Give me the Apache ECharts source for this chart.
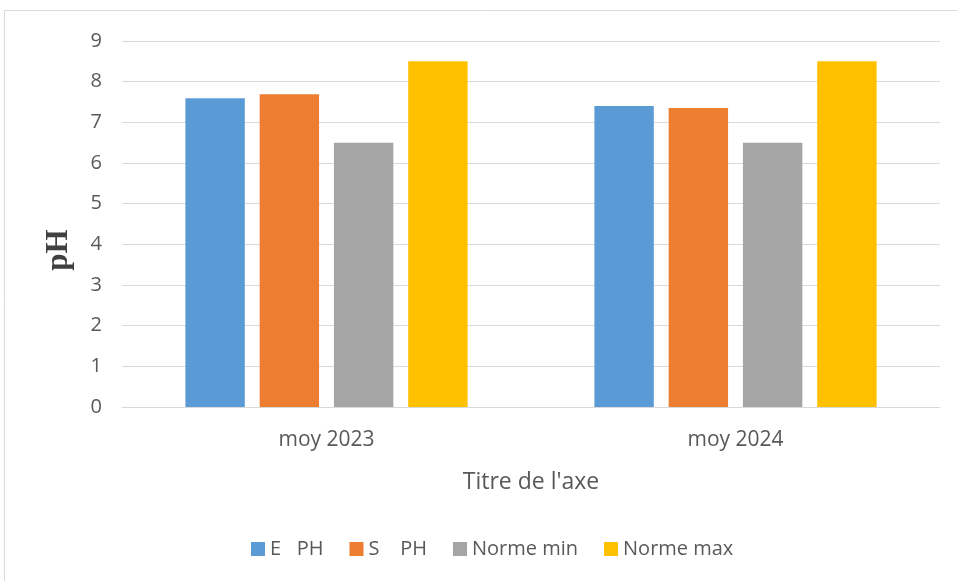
<!DOCTYPE html>
<html>
<head>
<meta charset="utf-8">
<script src="https://cdn.jsdelivr.net/npm/echarts@6/dist/echarts.min.js"></script>
<style>
  html, body { margin: 0; padding: 0; background: #fff; }
  #main { width: 957px; height: 581px; }
</style>
</head>
<body>
<div id="main"></div>
<script>
// pH moyen
let categories = ['moy 2023', 'moy 2024'];
let ePH = [7.59, 7.40];
let sPH = [7.69, 7.35];
let normeMin = [6.5, 6.5];
let normeMax = [8.5, 8.5];
let seriesNames = ['E   PH', 'S    PH', 'Norme min', 'Norme max'];
let colorList = ['#5b9bd5', '#ed7d31', '#a5a5a5', '#ffc000'];

let font = 'Open Sans';

function bar(name, data) {
  return {
    name: name,
    type: 'bar',
    data: data,
    barGap: '25%',
    barCategoryGap: '31%'
  };
}

let phOption = {
  color: colorList,
  animation: false,
  graphic: [
    {
      type: 'rect',
      shape: { x: 4.5, y: 10.5, width: 960, height: 575 },
      style: { fill: 'none', stroke: '#d9d9d9', lineWidth: 1 }
    },
    {
      type: 'text',
      x: 59,
      y: 250,
      rotation: Math.PI / 2,
      style: {
        text: 'pH',
        fill: '#404040',
        font: 'bold 31px "Liberation Serif"',
        align: 'center',
        verticalAlign: 'middle'
      }
    }
  ],
  grid: {
    left: 122,
    right: 17,
    top: 41,
    bottom: 174
  },
  legend: {
    bottom: 17,
    left: 246,
    itemWidth: 14,
    itemHeight: 14,
    itemGap: 26,
    icon: 'rect',
    textStyle: { color: '#595959', fontSize: 20, fontFamily: font },
    data: seriesNames
  },
  xAxis: {
    type: 'category',
    data: categories,
    name: "Titre de l'axe",
    nameLocation: 'middle',
    nameGap: 64,
    nameTextStyle: { color: '#595959', fontSize: 23, fontFamily: font },
    axisLine: { lineStyle: { color: '#d9d9d9' } },
    axisTick: { show: false },
    axisLabel: { color: '#595959', fontSize: 21, fontFamily: font, margin: 23 }
  },
  yAxis: {
    type: 'value',
    min: 0,
    max: 9,
    interval: 1,
    axisLine: { show: false },
    axisTick: { show: false },
    splitLine: { lineStyle: { color: '#d9d9d9', width: 1 } },
    axisLabel: { color: '#595959', fontSize: 20, fontFamily: font, margin: 20 }
  },
  series: [
    bar(seriesNames[0], ePH),
    bar(seriesNames[1], sPH),
    bar(seriesNames[2], normeMin),
    bar(seriesNames[3], normeMax)
  ]
};

var phDom = document.getElementById('main');
var phChart = echarts.init(phDom);
phChart.setOption(phOption);
</script>
</body>
</html>
